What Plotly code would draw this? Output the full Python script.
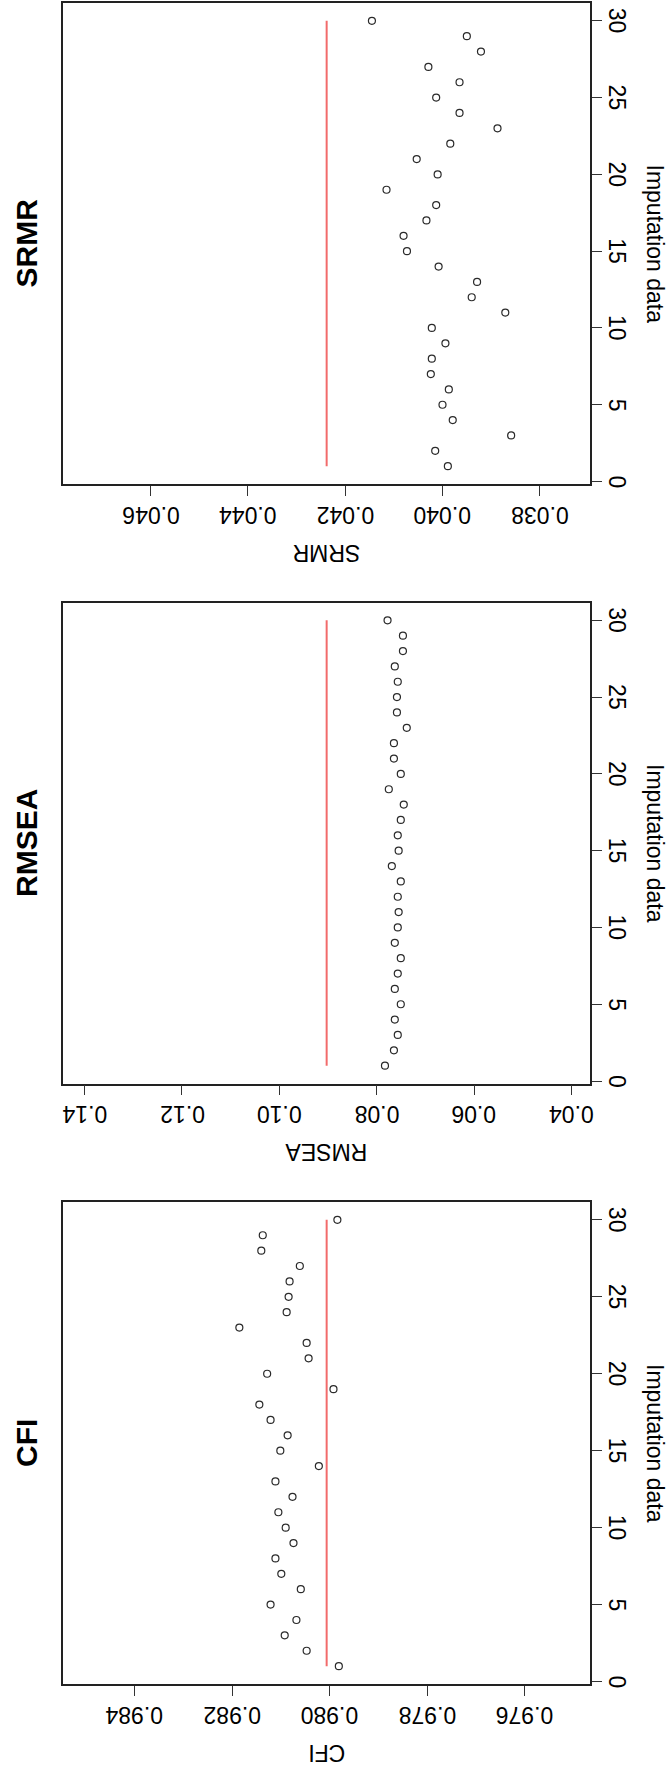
import plotly.graph_objects as go

# ---- data ----
imputation = list(range(1, 31))
srmr = [0.03989, 0.04015, 0.03859, 0.03979, 0.04000, 0.03987, 0.04024, 0.04022, 0.03994, 0.04022,
        0.03871, 0.03940, 0.03929, 0.04008, 0.04073, 0.04080, 0.04033, 0.04013, 0.04115, 0.04010,
        0.04053, 0.03984, 0.03887, 0.03965, 0.04013, 0.03965, 0.04029, 0.03921, 0.03950, 0.04145]
rmsea = [0.0783, 0.07646, 0.07567, 0.07628, 0.07505, 0.07628, 0.07567, 0.07505, 0.07628, 0.07567,
         0.07549, 0.07567, 0.07505, 0.07689, 0.07549, 0.07567, 0.07505, 0.07444, 0.07751, 0.07505,
         0.07646, 0.07646, 0.07382, 0.07584, 0.07584, 0.07567, 0.07628, 0.07461, 0.07461, 0.07777]
cfi = [0.97981, 0.98047, 0.98092, 0.98068, 0.98121, 0.98059, 0.98099, 0.98111, 0.98074, 0.98090,
       0.98105, 0.98076, 0.98111, 0.98022, 0.98101, 0.98086, 0.98121, 0.98144, 0.97992, 0.98128,
       0.98043, 0.98047, 0.98185, 0.98088, 0.98084, 0.98082, 0.98061, 0.98140, 0.98137, 0.97984]
metric_names = ["SRMR", "RMSEA", "CFI"]
reference = {"SRMR": 0.04238, "RMSEA": 0.09028, "CFI": 0.98006}
half_span = {"SRMR": 0.00541, "RMSEA": 0.0541, "CFI": 0.0054}
x_ticks = {"SRMR": [0.038, 0.040, 0.042, 0.044, 0.046],
           "RMSEA": [0.04, 0.06, 0.08, 0.10, 0.12, 0.14],
           "CFI": [0.976, 0.978, 0.980, 0.982, 0.984]}
x_decimals = {"SRMR": 3, "RMSEA": 2, "CFI": 3}
y_ticks = [0, 5, 10, 15, 20, 25, 30]
values = {"SRMR": srmr, "RMSEA": rmsea, "CFI": cfi}

# ---- layout geometry (pixels) ----
W, H = 670, 1773
box_left, box_right = 63.3, 590
box_tops = [3, 602.5, 1202]
box_bottoms = [484, 1083.5, 1684]

FONT = "Liberation Sans, Arial, sans-serif"

fig = go.Figure()
layout = dict(
    width=W, height=H,
    margin=dict(l=0, r=0, t=0, b=0),
    paper_bgcolor="white", plot_bgcolor="white",
    showlegend=False,
    font=dict(family=FONT, size=23, color="black"),
    annotations=[],
)

for i, name in enumerate(metric_names):
    k = "" if i == 0 else str(i + 1)
    xa, ya = "x" + k, "y" + k
    ref = reference[name]
    fig.add_trace(go.Scatter(
        x=[ref] * len(imputation), y=imputation, mode="lines",
        line=dict(color="#F26B6B", width=2), xaxis=xa, yaxis=ya, hoverinfo="skip"))
    fig.add_trace(go.Scatter(
        x=values[name], y=imputation, mode="markers",
        marker=dict(symbol="circle-open", size=7, color="#2a2a2a", line=dict(width=1.2, color="#2a2a2a")),
        xaxis=xa, yaxis=ya))

    top, bot = box_tops[i], box_bottoms[i]
    ydom = [1 - bot / H, 1 - top / H]
    xdom = [box_left / W, box_right / W]
    layout["xaxis" + k] = dict(
        domain=xdom, anchor=ya,
        range=[ref + half_span[name], ref - half_span[name]],
        tickvals=x_ticks[name], showticklabels=False,
        ticks="outside", ticklen=10, tickwidth=1.3, tickcolor="#333",
        showline=True, linecolor="#222", linewidth=1.5, mirror=True,
        showgrid=False, zeroline=False, automargin=False,
    )
    layout["yaxis" + k] = dict(
        domain=ydom, anchor=xa, side="right",
        range=[-0.16, 31.16],
        tickvals=y_ticks, showticklabels=False,
        ticks="outside", ticklen=10, tickwidth=1.3, tickcolor="#333",
        showline=True, linecolor="#222", linewidth=1.5, mirror=True,
        showgrid=False, zeroline=False, automargin=False,
    )
    # upside-down x tick labels
    for v in x_ticks[name]:
        layout["annotations"].append(dict(
            text=f"{v:.{x_decimals[name]}f}", x=v, xref=xa, y=1 - (bot + 31) / H, yref="paper",
            textangle=180, showarrow=False, xanchor="center", yanchor="middle",
            font=dict(size=23, family=FONT, color="black")))
    # rotated y tick labels on the right
    for v in y_ticks:
        layout["annotations"].append(dict(
            text=str(v), x=617 / W, xref="paper", y=v, yref=ya,
            textangle=90, showarrow=False, xanchor="center", yanchor="middle",
            font=dict(size=23, family=FONT, color="black")))
    cy = (top + bot) / 2
    cx = (box_left + box_right) / 2
    # panel title (rotated, bold)
    layout["annotations"].append(dict(
        text="<b>%s</b>" % name, x=26 / W, y=1 - cy / H, xref="paper", yref="paper",
        textangle=-90, showarrow=False, xanchor="center", yanchor="middle",
        font=dict(size=30, family=FONT, color="black")))
    # x-axis title (upside down)
    layout["annotations"].append(dict(
        text=name, x=cx / W, y=1 - (bot + 69) / H, xref="paper", yref="paper",
        textangle=180, showarrow=False, xanchor="center", yanchor="middle",
        font=dict(size=23, family=FONT, color="black")))
    # y-axis title on the right
    layout["annotations"].append(dict(
        text="Imputation data", x=655 / W, y=1 - cy / H, xref="paper", yref="paper",
        textangle=90, showarrow=False, xanchor="center", yanchor="middle",
        font=dict(size=23, family=FONT, color="black")))

fig.update_layout(**layout)
fig.write_html("out.html")
